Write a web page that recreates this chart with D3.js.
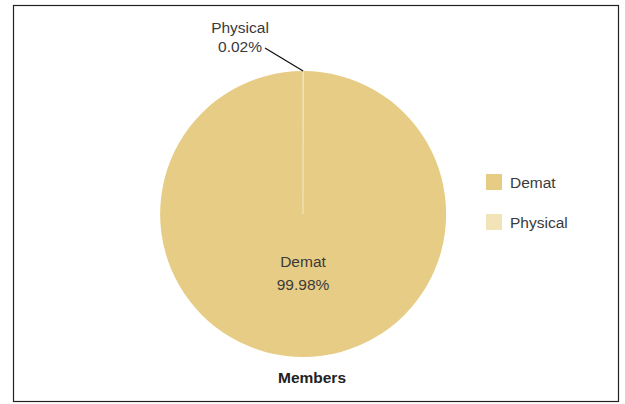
<!DOCTYPE html>
<html>
<head>
<meta charset="utf-8">
<script src="https://cdn.jsdelivr.net/npm/d3@7"></script>
<style>
  body { margin: 0; background: #fff; }
  svg text { font-family: "Liberation Sans", Arial, sans-serif; }
</style>
</head>
<body>
<div id="chart"></div>
<script>
// Data
const categories = ["Demat", "Physical"];
const shares = [99.98, 0.02];
const colours = ["#E6CC85", "#F3E3B9"];

const fullW = 625, fullH = 404;
const cx = 303, cy = 214, R = 143;

const svg = d3.select("#chart").append("svg")
  .attr("width", fullW)
  .attr("height", fullH);

// frame
svg.append("rect")
  .attr("x", 13.5).attr("y", 5.5)
  .attr("width", 605).attr("height", 396)
  .attr("fill", "none")
  .attr("stroke", "#222")
  .attr("stroke-width", 1.2);

const data = categories.map((c, i) => ({ name: c, value: shares[i], colour: colours[i] }));

// Physical slice sits just left of 12 o'clock; the pie runs clockwise from there
const pie = d3.pie().sort(null).value(d => d.value)
  .startAngle(0.0015).endAngle(2 * Math.PI + 0.0015);
const arcs = pie(data);
const arc = d3.arc().innerRadius(0).outerRadius(R);

const g = svg.append("g").attr("transform", `translate(${cx},${cy})`);

g.selectAll("path.slice")
  .data(arcs)
  .enter().append("path")
  .attr("class", "slice")
  .attr("d", arc)
  .attr("fill", d => d.data.colour)
  .attr("stroke", d => d.data.name === "Physical" ? "#F3E3B9" : "none")
  .attr("stroke-width", 1.2);

const fs = "15.5px";

// Demat label inside
const demat = arcs[0];
g.append("text")
  .attr("x", 0).attr("y", 53)
  .attr("text-anchor", "middle")
  .style("font-size", fs).style("fill", "#3a3a3a")
  .text(demat.data.name);
g.append("text")
  .attr("x", 0).attr("y", 76)
  .attr("text-anchor", "middle")
  .style("font-size", fs).style("fill", "#3a3a3a")
  .text(demat.data.value.toFixed(2) + "%");

// Physical callout with leader line
const phys = arcs[1];
const mid = (phys.startAngle + phys.endAngle) / 2;
const px = Math.sin(mid) * R, py = -Math.cos(mid) * R;
g.append("line")
  .attr("x1", px).attr("y1", py)
  .attr("x2", -38).attr("y2", -166)
  .attr("stroke", "#111").attr("stroke-width", 1.3);
g.append("text")
  .attr("x", -63).attr("y", -181)
  .attr("text-anchor", "middle")
  .style("font-size", fs).style("fill", "#3a3a3a")
  .text(phys.data.name);
g.append("text")
  .attr("x", -63).attr("y", -162)
  .attr("text-anchor", "middle")
  .style("font-size", fs).style("fill", "#3a3a3a")
  .text(phys.data.value.toFixed(2) + "%");

// Legend
const legend = svg.append("g").attr("transform", "translate(486,174)");
const item = legend.selectAll("g.item")
  .data(data)
  .enter().append("g")
  .attr("class", "item")
  .attr("transform", (d, i) => `translate(0,${i * 40})`);
item.append("rect")
  .attr("width", 16).attr("height", 16)
  .attr("fill", d => d.colour);
item.append("text")
  .attr("x", 24).attr("y", 14)
  .style("font-size", fs).style("fill", "#3a3a3a")
  .text(d => d.name);

// Title
svg.append("text")
  .attr("x", 312).attr("y", 383)
  .attr("text-anchor", "middle")
  .style("font-size", fs).style("font-weight", "bold").style("fill", "#222")
  .text("Members");
</script>
</body>
</html>
